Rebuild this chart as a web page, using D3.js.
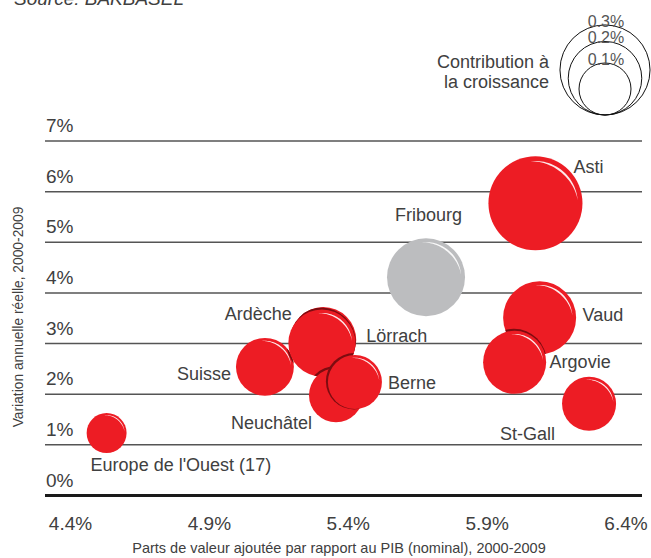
<!DOCTYPE html>
<html>
<head>
<meta charset="utf-8">
<script src="https://cdn.jsdelivr.net/npm/d3@7"></script>
<style>
  body { margin: 0; background: #fff; }
  svg text { font-family: "Liberation Sans", Arial, sans-serif; fill: #404040; }
</style>
</head>
<body>
<div id="chart"></div>
<script>
// Data
var regions = ["Fribourg", "Asti", "Vaud", "Argovie", "St-Gall", "Lörrach", "Suisse",
               "Ardèche", "Neuchâtel", "Berne", "Europe de l'Ouest (17)"];
var valueShare = [5.68, 6.074, 6.089, 5.999, 6.267, 5.31, 5.10, 5.305, 5.356, 5.424, 4.53];
var realGrowth = [4.31, 5.77, 3.51, 2.63, 1.81, 3.07, 2.54, 3.01, 1.98, 2.24, 1.234];
var contribution = [0.225, 0.327, 0.197, 0.147, 0.108, 0.161, 0.124, 0.166, 0.108, 0.108, 0.059];
var yTicks = [0, 1, 2, 3, 4, 5, 6, 7];
var xTicks = [4.4, 4.9, 5.4, 5.9, 6.4];
var legendValues = [0.3, 0.2, 0.1];

var width = 651, height = 558;
var red = '#ed1c24', grey = '#bcbdbf';

// label placement relative to bubble centre
var labelPos = {
  "Fribourg": {dx: 36, dy: -56, anchor: 'end'},
  "Asti": {dx: 38, dy: -30, anchor: 'start'},
  "Vaud": {dx: 43, dy: 3, anchor: 'start'},
  "Argovie": {dx: 35, dy: 6, anchor: 'start'},
  "St-Gall": {dx: -89, dy: 36, anchor: 'start'},
  "Lörrach": {dx: 43, dy: 2, anchor: 'start'},
  "Suisse": {dx: -34, dy: 13, anchor: 'end'},
  "Ardèche": {dx: -30, dy: -23, anchor: 'end'},
  "Neuchâtel": {dx: -24, dy: 34, anchor: 'end'},
  "Berne": {dx: 33, dy: 7, anchor: 'start'},
  "Europe de l'Ouest (17)": {dx: -16, dy: 38, anchor: 'start'}
};

var data = regions.map(function(r, i) {
  return {name: r, x: valueShare[i], y: realGrowth[i], c: contribution[i]};
});

var x = d3.scaleLinear().domain([4.4, 6.4]).range([70.5, 626]);
var y = d3.scaleLinear().domain([0, 7]).range([495.5, 141]);
var r = d3.scaleSqrt().domain([0, 0.1]).range([0, 26]);

var svg = d3.select('#chart').append('svg')
  .attr('width', width).attr('height', height);

// source line, cut at top like the original
svg.append('text')
  .attr('x', 14).attr('y', 5)
  .style('font-size', '19px').style('font-style', 'italic')
  .text('Source: BAKBASEL');

// horizontal grid + y tick labels
var grid = svg.append('g');
grid.selectAll('line').data(yTicks).enter().append('line')
  .attr('x1', 45).attr('x2', 642)
  .attr('y1', function(d) { return y(d); })
  .attr('y2', function(d) { return y(d); })
  .attr('stroke', function(d) { return d === 0 ? '#1a1a1a' : '#555'; })
  .attr('stroke-width', function(d) { return d === 0 ? 3 : 1.5; });

grid.selectAll('text').data(yTicks).enter().append('text')
  .attr('x', 46)
  .attr('y', function(d) { return y(d) - 9; })
  .style('font-size', '19px')
  .text(function(d) { return d + '%'; });

// x tick labels
svg.append('g').selectAll('text').data(xTicks).enter().append('text')
  .attr('x', function(d) { return x(d); })
  .attr('y', 530)
  .attr('text-anchor', 'middle')
  .style('font-size', '19px')
  .text(function(d) { return d.toFixed(1) + '%'; });

// axis titles
svg.append('text')
  .attr('x', 339).attr('y', 553)
  .attr('text-anchor', 'middle')
  .style('font-size', '14.5px')
  .text('Parts de valeur ajoutée par rapport au PIB (nominal), 2000-2009');

svg.append('text')
  .attr('transform', 'translate(23,317) rotate(-90)')
  .attr('text-anchor', 'middle')
  .style('font-size', '13.8px')
  .text('Variation annuelle réelle, 2000-2009');

// clip paths: each bubble's dark rim only shows over earlier bubbles
var defs = svg.append('defs');
data.forEach(function(d, i) {
  var cp = defs.append('clipPath').attr('id', 'under' + i);
  data.slice(0, i).forEach(function(e) {
    cp.append('circle').attr('cx', x(e.x)).attr('cy', y(e.y)).attr('r', r(e.c));
  });
});

// crescent highlight in upper right of each bubble
function highlight(rad) {
  var a0 = -0.12, a1 = 1.5, n = 30, pts = [], back = [];
  for (var k = 0; k <= n; k++) {
    var t = a0 + (a1 - a0) * k / n;
    var w = rad * 0.045 * Math.sin(Math.PI * k / n);
    var ro = rad * 0.9;
    pts.push([Math.sin(t) * ro, -Math.cos(t) * ro]);
    back.push([Math.sin(t) * (ro - w), -Math.cos(t) * (ro - w)]);
  }
  return d3.line()(pts.concat(back.reverse())) + 'Z';
}

var bubbleLayer = svg.append('g');
data.forEach(function(d, i) {
  var rad = r(d.c);
  if (i > 0) {
    bubbleLayer.append('g').attr('clip-path', 'url(#under' + i + ')')
      .append('circle')
      .attr('cx', x(d.x) - 0.8).attr('cy', y(d.y) - 0.8).attr('r', rad + 1.2)
      .attr('fill', '#7d0c10');
  }
  var g = bubbleLayer.append('g')
    .attr('transform', 'translate(' + x(d.x) + ',' + y(d.y) + ')');
  g.append('circle').attr('r', rad)
    .attr('fill', d.name === 'Fribourg' ? grey : red);
  g.append('path').attr('d', highlight(rad))
    .attr('fill', '#fff').attr('opacity', 0.9);
});

// labels
svg.append('g').selectAll('text').data(data).enter().append('text')
  .attr('x', function(d) { return x(d.x) + labelPos[d.name].dx; })
  .attr('y', function(d) { return y(d.y) + labelPos[d.name].dy; })
  .attr('text-anchor', function(d) { return labelPos[d.name].anchor; })
  .style('font-size', '18px')
  .text(function(d) { return d.name; });

// legend
var leg = svg.append('g').attr('transform', 'translate(605,115)');
leg.selectAll('circle').data(legendValues).enter().append('circle')
  .attr('cx', 0)
  .attr('cy', function(d) { return -r(d); })
  .attr('r', function(d) { return r(d); })
  .attr('fill', 'none').attr('stroke', '#111').attr('stroke-width', 1);
leg.selectAll('text.v').data(legendValues).enter().append('text')
  .attr('class', 'v')
  .attr('x', 1)
  .attr('y', function(d) { return -2 * r(d) + 2; })
  .attr('text-anchor', 'middle')
  .style('font-size', '16px').style('fill', '#555')
  .text(function(d) { return d + '%'; });
leg.append('text').attr('x', -56).attr('y', -47)
  .attr('text-anchor', 'end').style('font-size', '18px')
  .text('Contribution à');
leg.append('text').attr('x', -56).attr('y', -27)
  .attr('text-anchor', 'end').style('font-size', '18px')
  .text('la croissance');
</script>
</body>
</html>
